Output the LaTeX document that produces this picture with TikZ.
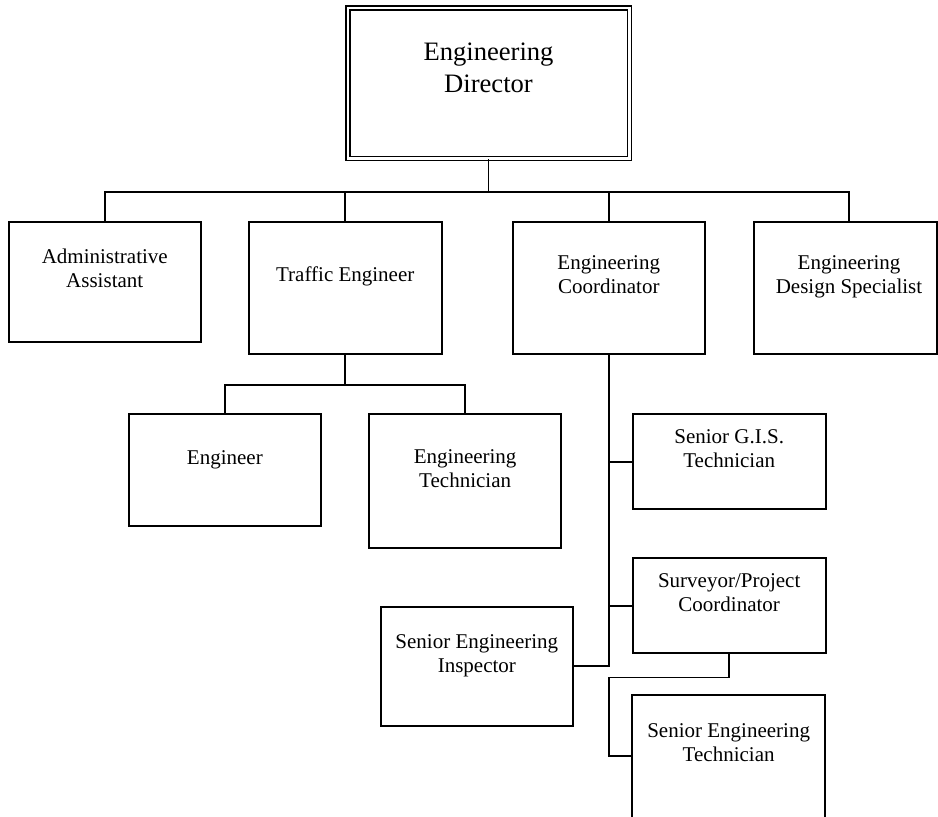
\documentclass[tikz,border=0pt]{standalone}
\usepackage{fontspec}
\setmainfont{Liberation Serif}
\begin{document}
\begin{tikzpicture}[
  x=0.5pt, y=-0.5pt,
  box/.style = {draw, line width=1pt, inner sep=0pt},
  title/.style = {anchor=base, align=center, inner sep=0pt,
    font=\fontsize{10.5}{12}\selectfont},
  link/.style = {line width=0.9pt}
  ]
  \clip (0,0) rectangle (938,816);
  % boxes
  \node[box, double, double distance=1.25pt, line width=0.75pt,
    minimum width=140.75pt, minimum height=75.25pt] (dir) at (488.5,83) {};
  \node[box, minimum width=96.25pt, minimum height=60pt]    (admin)   at (104.75,282) {};
  \node[box, minimum width=96.75pt, minimum height=65.75pt] (traffic) at (345.25,287.75) {};
  \node[box, minimum width=95.75pt, minimum height=65.75pt] (coord)   at (608.75,287.75) {};
  \node[box, minimum width=91.75pt, minimum height=65.75pt] (design)  at (845.25,287.75) {};
  \node[box, minimum width=95.85pt, minimum height=56pt]    (eng)     at (224.85,470) {};
  \node[box, minimum width=95.85pt, minimum height=67.15pt] (tech)    at (465.15,481.15) {};
  \node[box, minimum width=96.5pt,  minimum height=47.35pt] (gis)     at (729.2,461.65) {};
  \node[box, minimum width=96.5pt,  minimum height=47.5pt]  (surv)    at (729.2,605.8) {};
  \node[box, minimum width=95.85pt, minimum height=59.35pt] (insp)    at (476.85,666.35) {};
  \node[box, minimum width=96.35pt, minimum height=70pt]    (setech)  at (728.65,765) {};
  % titles (base = last line)
  \node[title, font=\fontsize{13.3}{16}\selectfont] (dirT) at (488.5,92) {Engineering\\Director};
  \node[title] (adminT)   at (104.75,287)  {Administrative\\Assistant};
  \node[title] (trafficT) at (345.25,281.7) {Traffic Engineer};
  \node[title] (coordT)   at (608.75,293)  {Engineering\\Coordinator};
  \node[title] (designT)  at (849,293)     {Engineering\\Design Specialist};
  \node[title] (engT)     at (224.85,464)  {Engineer};
  \node[title] (techT)    at (465.15,487)  {Engineering\\Technician};
  \node[title] (gisT)     at (729.2,467)   {Senior G.I.S.\\Technician};
  \node[title] (survT)    at (729.2,611)   {Surveyor/Project\\Coordinator};
  \node[title] (inspT)    at (476.85,672)  {Senior Engineering\\Inspector};
  \node[title] (setechT)  at (728.65,761.7) {Senior Engineering\\Technician};
  % connectors
  \coordinate (busL) at (105,192);
  \coordinate (busR) at (849,192);
  \coordinate (tbus) at (345,385);
  \coordinate (sbend) at (609,677.5);
  \coordinate (setin) at (632.3,755.7);
  \draw[link] (dir.south) -- (dir.south |- busL);
  \draw[link] (busL |- admin.north) -- (busL) -- (busR) -- (busR |- design.north);
  \foreach \n in {traffic, coord}
    \draw[link] (\n.north) -- (\n.north |- busL);
  \draw[link] (traffic.south) -- (traffic.south |- tbus);
  \draw[link] (eng.north) -- (eng.north |- tbus) -- (tech.north |- tbus) -- (tech.north);
  \draw[link] (coord.south) -- (coord.south |- insp.east) -- (insp.east);
  \foreach \n in {gis, surv}
    \draw[link] (\n.west) -- (\n.west -| coord.south);
  \draw[link] (surv.south) |- (sbend) |- (setin);
\end{tikzpicture}
\end{document}
